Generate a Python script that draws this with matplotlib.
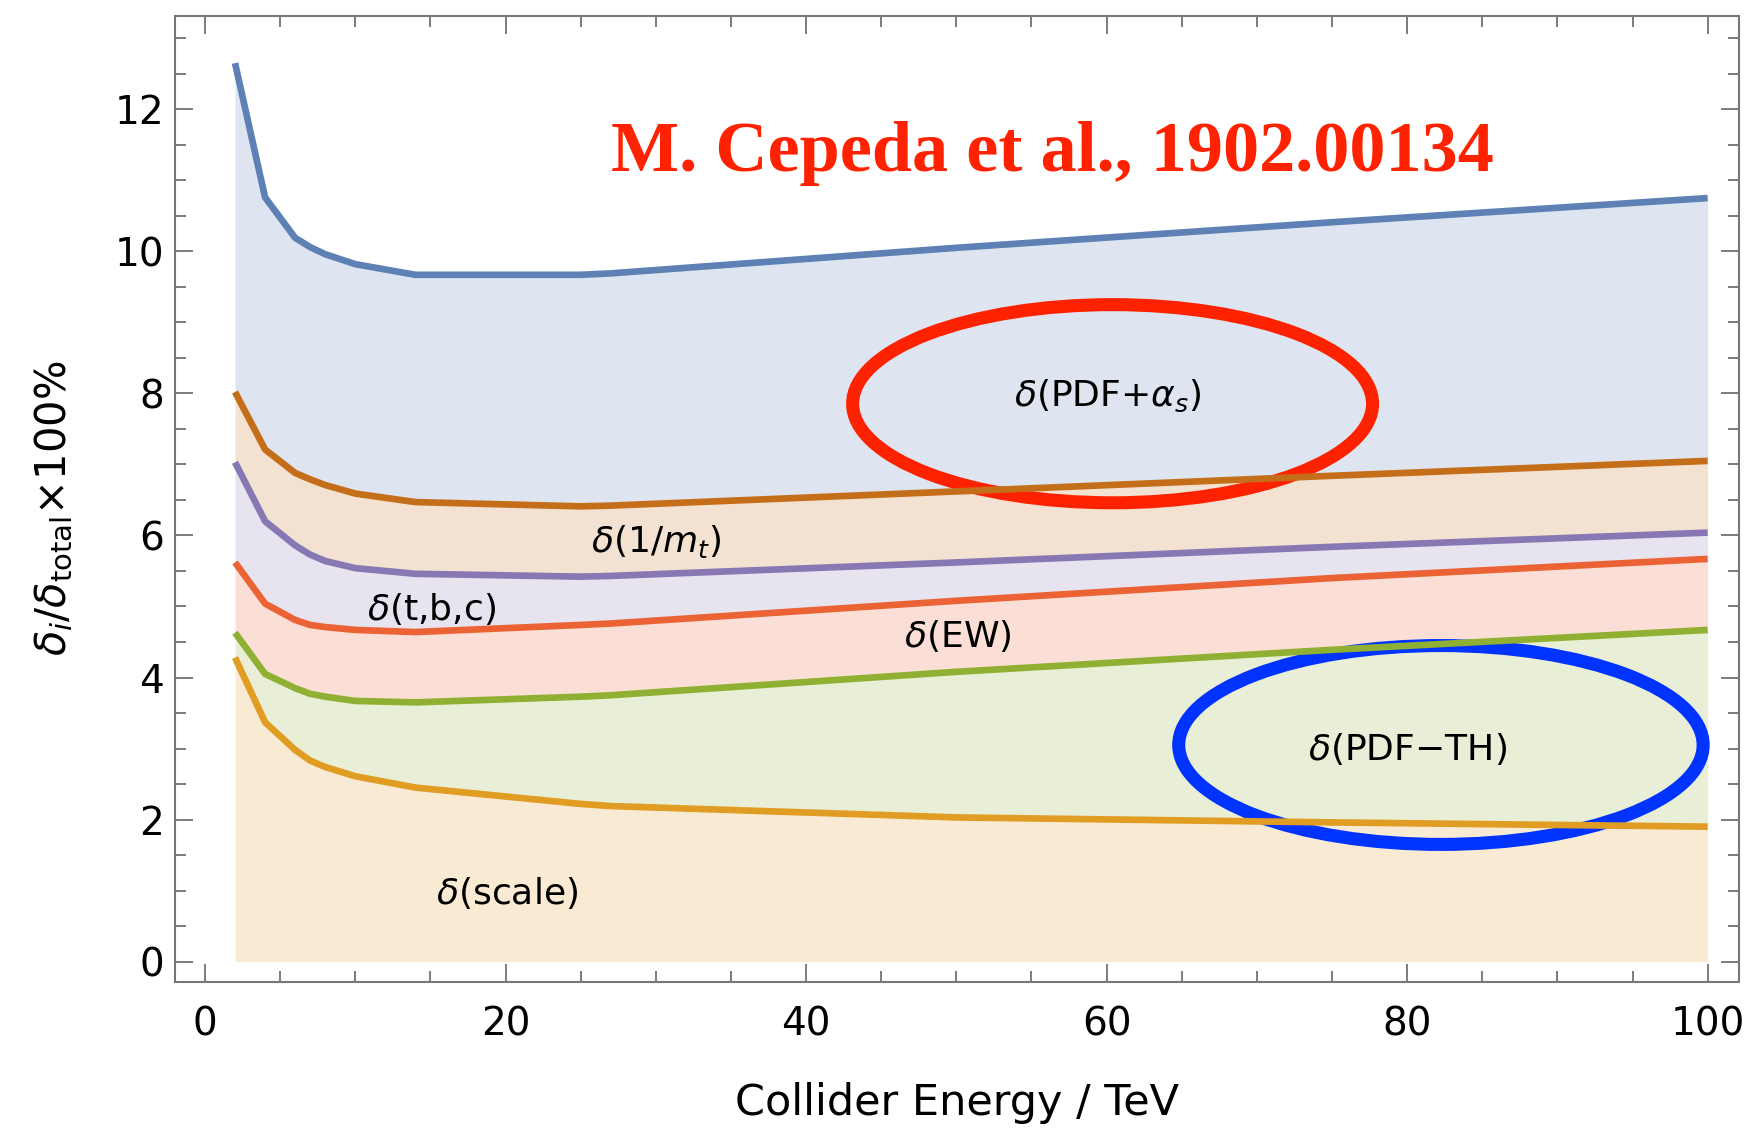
"""Relative size of the theory uncertainties on the Higgs cross section vs collider energy."""

import numpy as np
import matplotlib
matplotlib.use("Agg")
import matplotlib.pyplot as plt
from matplotlib.patches import Ellipse
from matplotlib.ticker import MultipleLocator

plt.rcParams["mathtext.fontset"] = "dejavusans"

# collider energies (TeV) and stacked uncertainty curves (percent of total)
energy = [2, 4, 6, 7, 8, 10, 14, 25, 27, 50, 75, 100]
pdf_alphas = [12.65, 10.76, 10.19, 10.06, 9.96, 9.82, 9.67, 9.67, 9.69, 10.05, 10.41, 10.75]
inv_mt = [8.02, 7.21, 6.88, 6.79, 6.71, 6.59, 6.47, 6.41, 6.42, 6.62, 6.84, 7.05]
tbc = [7.03, 6.20, 5.86, 5.73, 5.64, 5.54, 5.46, 5.42, 5.43, 5.62, 5.84, 6.04]
ew = [5.62, 5.04, 4.81, 4.74, 4.71, 4.67, 4.64, 4.74, 4.76, 5.08, 5.40, 5.67]
pdf_th = [4.63, 4.05, 3.85, 3.77, 3.73, 3.67, 3.65, 3.73, 3.75, 4.08, 4.39, 4.67]
scale = [4.28, 3.37, 2.98, 2.83, 2.74, 2.61, 2.45, 2.22, 2.19, 2.03, 1.96, 1.90]

curves = [pdf_alphas, inv_mt, tbc, ew, pdf_th, scale]
colors = ["#5E81B5", "#C56E1A", "#8778B3", "#EB6235", "#8FB032", "#E19C24"]

labels = [r"$\delta$(PDF+$\alpha_s$)", r"$\delta$(1/$m_t$)", r"$\delta$(t,b,c)",
          r"$\delta$(EW)", "$\\delta$(PDF\u2212TH)", r"$\delta$(scale)"]
label_x = [60.1, 30.0, 15.1, 50.1, 80.0, 20.1]
label_y = [7.96, 5.91, 4.97, 4.58, 3.0, 0.96]


def main():
    fig = plt.figure(figsize=(17.51, 11.28), dpi=100)
    ax = fig.add_axes([0.0999, 0.1297, 0.8932, 0.8565])
    x = np.array(energy)

    lowers = curves[1:] + [[0] * len(energy)]
    for upper, lower, c in zip(curves, lowers, colors):
        ax.fill_between(x, upper, lower, color=c, alpha=0.2, lw=0)
    for y, c in zip(curves, colors):
        ax.plot(x, y, color=c, lw=4.8, solid_capstyle="butt", solid_joinstyle="round")

    ax.add_patch(Ellipse((60.4, 7.855), 34.6, 2.79, fill=False, ec="#FF2200", lw=9.4))
    ax.add_patch(Ellipse((82.25, 3.05), 34.9, 2.8, fill=False, ec="#0033FF", lw=9.4))

    for s, lx, ly in zip(labels, label_x, label_y):
        ax.text(lx, ly, s, fontsize=26, ha="center", va="center")

    ax.text(56.4, 11.38, "M. Cepeda et al., 1902.00134", color="#FF2200", fontsize=52,
            fontweight="bold", family="Liberation Serif", ha="center", va="center")

    ax.set_xlim(-2.0, 102.08)
    ax.set_ylim(-0.283, 13.32)
    ax.xaxis.set_major_locator(MultipleLocator(20))
    ax.xaxis.set_minor_locator(MultipleLocator(5))
    ax.yaxis.set_major_locator(MultipleLocator(2))
    ax.yaxis.set_minor_locator(MultipleLocator(0.5))
    ax.tick_params(which="both", direction="in", top=True, right=True, color="#666666", width=1.2,
                   labelsize=28)
    ax.tick_params(which="major", length=13)
    ax.tick_params(which="minor", length=8)
    ax.tick_params(axis="x", pad=17)
    ax.tick_params(axis="y", pad=8)
    for sp in ax.spines.values():
        sp.set_color("#777777")
        sp.set_linewidth(1.5)

    ax.set_xlabel("Collider Energy / TeV", fontsize=31, labelpad=28)
    ax.set_ylabel(r"$\delta_i/\delta_{\mathrm{total}}$$\times$100%", fontsize=30, va="center")
    ax.yaxis.set_label_coords(-0.0776, 0.49)

    fig.savefig("out.png", dpi=100)


if __name__ == "__main__":
    main()
